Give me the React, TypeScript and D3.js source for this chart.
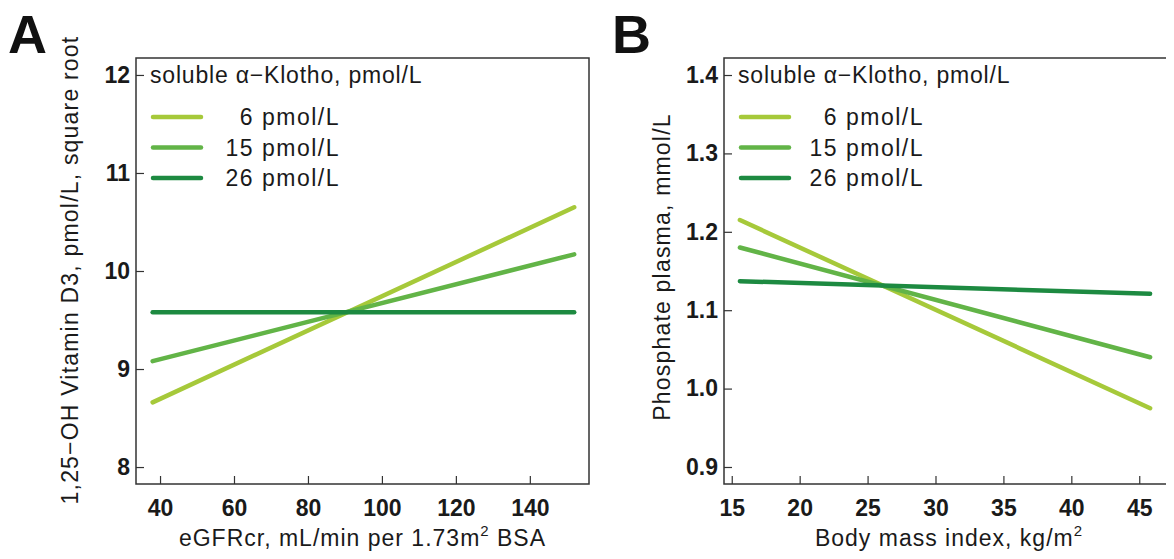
import React, { useRef, useEffect } from "react";
import * as d3 from "d3";

// soluble alpha-Klotho levels shown in both panels
const klothoLevels = ["6 pmol/L", "15 pmol/L", "26 pmol/L"];
const lineColors = ["#a6c93a", "#62b447", "#1d8a41"];

// Panel A: eGFR vs 1,25-OH vitamin D3 (square root)
const egfrRange = [38, 152];
const vitD_6 = [8.66, 10.65];
const vitD_15 = [9.08, 10.17];
const vitD_26 = [9.58, 9.58];
const egfrTicks = [40, 60, 80, 100, 120, 140];
const vitDTicks = [8, 9, 10, 11, 12];

// Panel B: BMI vs phosphate plasma
const bmiRange = [15.6, 45.8];
const phos_6 = [1.215, 0.975];
const phos_15 = [1.18, 1.04];
const phos_26 = [1.137, 1.121];
const bmiTicks = [15, 20, 25, 30, 35, 40, 45];
const phosTicks = [0.9, 1.0, 1.1, 1.2, 1.3, 1.4];

const FONT = "'Liberation Sans', Arial, sans-serif";

const App = () => {
    const svgRef = useRef(null);
    const width = 1174;
    const height = 559;

    useEffect(() => {
        const svg = d3.select(svgRef.current);
        svg.selectAll("*").remove();

        const drawPanel = (opts) => {
            const { left, right, top, bottom, xDomain, yDomain, xTicks, yTicks, yFmt,
                xs, series, letter, letterX, yTitle, yTitleX, yTitleY, xTitle, xSup, xSupAfter, legendRight } = opts;

            const x = d3.scaleLinear().domain(xDomain).range([left, right]);
            const y = d3.scaleLinear().domain(yDomain).range([bottom, top]);
            const g = svg.append("g");

            // frame
            g.append("rect")
                .attr("x", left).attr("y", top)
                .attr("width", right - left).attr("height", bottom - top)
                .attr("fill", "none").attr("stroke", "#333").attr("stroke-width", 1.5);

            // axes with inward ticks
            g.append("g")
                .attr("transform", `translate(0,${bottom})`)
                .call(d3.axisBottom(x).tickValues(xTicks).tickSize(-8).tickPadding(16).tickSizeOuter(0))
                .call(a => a.select(".domain").remove())
                .call(a => a.selectAll("line").attr("stroke", "#333").attr("stroke-width", 1.2))
                .call(a => a.selectAll("text")
                    .attr("fill", "#1a1a1a").style("font-family", FONT)
                    .style("font-size", "23px").style("font-weight", "bold"));

            g.append("g")
                .attr("transform", `translate(${left},0)`)
                .call(d3.axisLeft(y).tickValues(yTicks).tickFormat(yFmt).tickSize(-8).tickPadding(6).tickSizeOuter(0))
                .call(a => a.select(".domain").remove())
                .call(a => a.selectAll("line").attr("stroke", "#333").attr("stroke-width", 1.2))
                .call(a => a.selectAll("text")
                    .attr("fill", "#1a1a1a").style("font-family", FONT)
                    .style("font-size", "23px").style("font-weight", "bold"));

            // regression lines
            const line = d3.line().x(d => x(d[0])).y(d => y(d[1]));
            series.forEach((vals, i) => {
                g.append("path")
                    .datum(xs.map((xv, j) => [xv, vals[j]]))
                    .attr("d", line)
                    .attr("fill", "none")
                    .attr("stroke", lineColors[i])
                    .attr("stroke-width", 4.5)
                    .attr("stroke-linecap", "round");
            });

            // legend
            g.append("text")
                .attr("x", left + 14).attr("y", 83)
                .style("font-family", FONT).style("font-size", "23px").attr("fill", "#1a1a1a")
                .style("letter-spacing", "0.8px")
                .text("soluble \u03B1\u2212Klotho, pmol/L");
            klothoLevels.forEach((lab, i) => {
                const ly = 117 + i * 30.5;
                g.append("line")
                    .attr("x1", left + 17).attr("x2", left + 65)
                    .attr("y1", ly).attr("y2", ly)
                    .attr("stroke", lineColors[i]).attr("stroke-width", 4.5)
                    .attr("stroke-linecap", "round");
                g.append("text")
                    .attr("x", legendRight).attr("y", ly + 8)
                    .attr("text-anchor", "end")
                    .style("font-family", FONT).style("font-size", "23px").attr("fill", "#1a1a1a")
                    .style("letter-spacing", "1.5px")
                    .text(lab);
            });

            // axis titles
            const xt = g.append("text")
                .attr("x", (left + Math.min(right, width)) / 2).attr("y", 546)
                .attr("text-anchor", "middle")
                .style("font-family", FONT).style("font-size", "23px").style("letter-spacing", "1px")
                .attr("fill", "#1a1a1a");
            xt.append("tspan").text(xTitle);
            xt.append("tspan").attr("dy", -10).style("font-size", "15px").text(xSup);
            if (xSupAfter) xt.append("tspan").attr("dy", 10).text(xSupAfter);

            g.append("text")
                .attr("transform", `translate(${yTitleX},${yTitleY}) rotate(-90)`)
                .attr("text-anchor", "middle")
                .style("font-family", FONT).style("font-size", "23px").style("letter-spacing", "1.2px")
                .attr("fill", "#1a1a1a")
                .text(yTitle);

            // panel letter
            g.append("text")
                .attr("x", letterX).attr("y", 53)
                .style("font-family", FONT).style("font-size", "54px").style("font-weight", "bold")
                .attr("fill", "#111")
                .text(letter);
        };

        drawPanel({
            left: 136, right: 589, top: 58, bottom: 484,
            xDomain: [33.5, 156], yDomain: [7.827, 12.173],
            xTicks: egfrTicks, yTicks: vitDTicks, yFmt: d3.format("d"),
            xs: egfrRange, series: [vitD_6, vitD_15, vitD_26],
            letter: "A", letterX: 8,
            yTitle: "1,25\u2212OH Vitamin D3, pmol/L, square root", yTitleX: 78, yTitleY: 270,
            xTitle: "eGFRcr, mL/min per 1.73m", xSup: "2", xSupAfter: " BSA",
            legendRight: 340,
        });

        drawPanel({
            left: 724, right: 1180, top: 58, bottom: 484,
            xDomain: [14.43, 48.0], yDomain: [0.8783, 1.4217],
            xTicks: bmiTicks, yTicks: phosTicks, yFmt: d3.format(".1f"),
            xs: bmiRange, series: [phos_6, phos_15, phos_26],
            letter: "B", letterX: 612,
            yTitle: "Phosphate plasma, mmol/L", yTitleX: 670, yTitleY: 267,
            xTitle: "Body mass index, kg/m", xSup: "2", xSupAfter: "",
            legendRight: 924,
        });
    }, []);

    return (
        <div style={{ margin: -8 }}>
            <svg ref={svgRef} width={width} height={height} style={{ display: "block", background: "#fff" }}></svg>
        </div>
    );
};

export default App;
